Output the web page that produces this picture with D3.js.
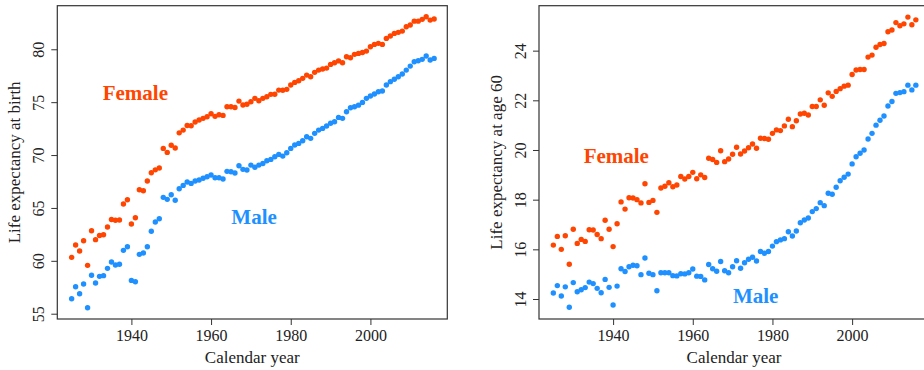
<!DOCTYPE html>
<html>
<head>
<meta charset="utf-8">
<script src="https://cdn.jsdelivr.net/npm/d3@7"></script>
<style>
  html, body { margin: 0; padding: 0; background: #fff; }
  svg { display: block; }
  text { font-family: "Liberation Serif", "Times New Roman", serif; fill: #222; }
</style>
</head>
<body>
<svg id="chart" width="924" height="370"></svg>
<script>
// Calendar years 1925–2016
const years = d3.range(1925, 2017);

// Life expectancy at birth (years)
const birthFemale = [
  60.33, 61.5, 60.93, 61.9, 59.57, 62.85, 62.0, 62.4, 62.47, 63.2,
  63.9, 63.83, 63.86, 65.37, 65.78, 63.48, 64.07, 66.72, 66.63, 67.54,
  68.33, 68.6, 68.77, 70.63, 70.25, 70.92, 70.66, 72.1, 72.36, 72.8,
  72.77, 73.12, 73.31, 73.47, 73.62, 73.9, 73.66, 73.81, 73.75, 74.57,
  74.57, 74.5, 75.1, 74.73, 74.8, 75.04, 75.36, 75.13, 75.36, 75.51,
  75.74, 75.75, 76.14, 76.12, 76.21, 76.62, 76.87, 77.03, 77.25, 77.56,
  77.4, 77.82, 78.03, 78.13, 78.22, 78.57, 78.72, 78.9, 78.72, 79.3,
  79.2, 79.52, 79.61, 79.7, 79.83, 80.24, 80.46, 80.56, 80.46, 81.03,
  81.25, 81.5, 81.6, 81.72, 82.13, 82.29, 82.66, 82.66, 82.83, 83.07,
  82.76, 82.86
];
const birthMale = [
  56.42, 57.55, 56.89, 57.81, 55.57, 58.63, 57.9, 58.53, 58.6, 59.29,
  59.89, 59.6, 59.67, 60.99, 61.33, 58.15, 58.02, 60.61, 60.74, 61.33,
  62.79, 63.67, 63.98, 66.0, 65.81, 66.25, 65.72, 66.82, 67.13, 67.45,
  67.32, 67.54, 67.64, 67.8, 67.95, 68.11, 67.85, 67.85, 67.73, 68.46,
  68.42, 68.3, 68.99, 68.65, 68.58, 69.05, 68.84, 69.05, 69.2, 69.46,
  69.59, 69.84, 70.06, 69.9, 70.22, 70.63, 70.95, 71.1, 71.35, 71.73,
  71.58, 72.05, 72.36, 72.52, 72.74, 73.0, 73.15, 73.56, 73.47, 74.1,
  74.47, 74.56, 74.72, 74.98, 75.36, 75.58, 75.77, 75.98, 76.05, 76.62,
  76.94, 77.16, 77.4, 77.66, 78.03, 78.41, 78.82, 78.91, 79.05, 79.36,
  78.98, 79.14
];

// Remaining life expectancy at age 60 (years)
const age60Female = [
  16.17, 16.52, 16.0, 16.55, 15.4, 16.81, 16.24, 16.4, 16.32, 16.79,
  16.78, 16.6, 16.43, 17.17, 16.81, 16.11, 17.03, 17.91, 17.62, 18.08,
  18.07, 18.0, 17.87, 18.64, 17.89, 17.97, 17.49, 18.47, 18.54, 18.68,
  18.52, 18.59, 18.93, 18.83, 18.93, 19.1, 18.84, 19.0, 18.89, 19.67,
  19.62, 19.5, 19.97, 19.53, 19.64, 19.83, 20.11, 19.84, 19.96, 20.09,
  20.24, 20.07, 20.47, 20.46, 20.43, 20.67, 20.81, 20.78, 20.97, 21.24,
  20.94, 21.18, 21.45, 21.48, 21.41, 21.75, 21.75, 22.02, 21.8, 22.3,
  22.16, 22.36, 22.47, 22.57, 22.61, 23.04, 23.22, 23.24, 23.24, 23.74,
  23.82, 24.14, 24.25, 24.29, 24.76, 24.83, 25.13, 25.0, 25.08, 25.35,
  25.04, 25.24
];
const age60Male = [
  14.24, 14.54, 14.12, 14.49, 13.67, 14.66, 14.29, 14.37, 14.46, 14.68,
  14.62, 14.43, 14.25, 14.79, 14.47, 13.76, 14.52, 15.22, 15.11, 15.3,
  15.36, 15.34, 14.98, 15.65, 15.04, 14.98, 14.33, 15.06, 15.06, 15.06,
  14.94, 14.93, 15.02, 15.01, 15.06, 15.21, 14.92, 14.91, 14.77, 15.39,
  15.22, 15.12, 15.51, 15.14, 15.06, 15.3, 15.54, 15.24, 15.46, 15.6,
  15.68, 15.53, 15.91, 15.84, 15.91, 16.13, 16.31, 16.38, 16.43, 16.71,
  16.54, 16.74, 17.07, 17.18, 17.26, 17.52, 17.64, 17.88, 17.76, 18.26,
  18.22, 18.5, 18.76, 18.9, 19.03, 19.44, 19.73, 19.87, 20.0, 20.44,
  20.67, 21.0, 21.2, 21.37, 21.77, 21.95, 22.28, 22.31, 22.35, 22.61,
  22.42, 22.61
];

// Tick labels
const xTicks = [1940, 1960, 1980, 2000];
const birthTicks = [55, 60, 65, 70, 75, 80];
const age60Ticks = [14, 16, 18, 20, 22, 24];

const FEMALE = "#ff4500";
const MALE = "#1e90ff";

const svg = d3.select("#chart");

function panel(opts) {
  const { left, right, top, bottom, yDomain, yTicks, yTitle,
          female, male, femaleLabel, maleLabel } = opts;

  const x = d3.scaleLinear().domain([1921.4, 2019.3]).range([left, right]);
  const y = d3.scaleLinear().domain(yDomain).range([bottom, top]);
  const g = svg.append("g");

  // points
  const series = [
    { values: female, color: FEMALE },
    { values: male, color: MALE }
  ];
  series.forEach(s => {
    g.append("g").selectAll("circle")
      .data(years.map((yr, i) => [yr, s.values[i]]))
      .join("circle")
      .attr("cx", d => x(d[0]))
      .attr("cy", d => y(d[1]))
      .attr("r", 2.7)
      .attr("fill", s.color);
  });

  // frame
  g.append("rect")
    .attr("x", left).attr("y", top)
    .attr("width", right - left).attr("height", bottom - top)
    .attr("fill", "none").attr("stroke", "#333").attr("stroke-width", 1.2);

  // bottom axis
  const xa = g.append("g")
    .attr("transform", `translate(0,${bottom})`)
    .call(d3.axisBottom(x).tickValues(xTicks).tickSize(6).tickPadding(5).tickFormat(d3.format("d")));
  xa.select(".domain").remove();
  xa.selectAll("line").attr("stroke", "#333");
  xa.selectAll("text").attr("font-size", 16).attr("fill", "#222")
    .attr("font-family", "Liberation Serif, serif");

  // left axis, labels rotated
  const ya = g.append("g")
    .attr("transform", `translate(${left},0)`)
    .call(d3.axisLeft(y).tickValues(yTicks).tickSize(6).tickFormat(d3.format("d")));
  ya.select(".domain").remove();
  ya.selectAll("line").attr("stroke", "#333");
  ya.selectAll("text")
    .attr("font-size", 16).attr("fill", "#222")
    .attr("font-family", "Liberation Serif, serif")
    .attr("x", null).attr("dy", null)
    .attr("text-anchor", "middle")
    .attr("transform", "translate(-13,0) rotate(-90)");

  // axis titles
  g.append("text")
    .attr("x", (left + right) / 2).attr("y", 363)
    .attr("text-anchor", "middle").attr("font-size", 17)
    .text("Calendar year");
  g.append("text")
    .attr("transform", `translate(${left - 37},${(top + bottom) / 2}) rotate(-90)`)
    .attr("text-anchor", "middle").attr("font-size", 17)
    .text(yTitle);

  // series labels
  g.append("text")
    .attr("x", x(femaleLabel[0])).attr("y", y(femaleLabel[1]))
    .attr("text-anchor", "middle").attr("dominant-baseline", "central")
    .attr("font-size", 21).attr("font-weight", "bold")
    .style("fill", FEMALE).text("Female");
  g.append("text")
    .attr("x", x(maleLabel[0])).attr("y", y(maleLabel[1]))
    .attr("text-anchor", "middle").attr("dominant-baseline", "central")
    .attr("font-size", 21).attr("font-weight", "bold")
    .style("fill", MALE).text("Male");
}

panel({
  left: 57.3, right: 447.3, top: 5.7, bottom: 319,
  yDomain: [54.5, 84.12], yTicks: birthTicks,
  yTitle: "Life expectancy at birth",
  female: birthFemale, male: birthMale,
  femaleLabel: [1941, 75.9], maleLabel: [1970.8, 64.15]
});

panel({
  left: 539, right: 929, top: 5.7, bottom: 319,
  yDomain: [13.195, 25.81], yTicks: age60Ticks,
  yTitle: "Life expectancy at age 60",
  female: age60Female, male: age60Male,
  femaleLabel: [1940.8, 19.76], maleLabel: [1975.8, 14.12]
});
</script>
</body>
</html>
